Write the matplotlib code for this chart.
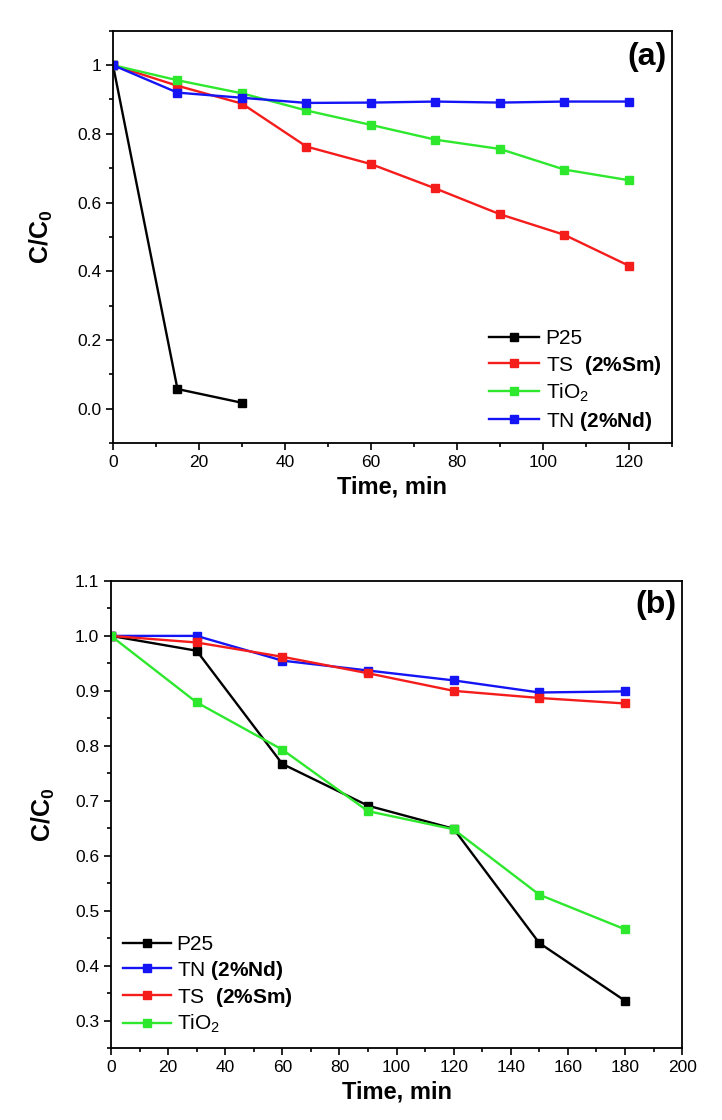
import matplotlib
matplotlib.use("Agg")
import matplotlib.pyplot as plt
from matplotlib.ticker import MultipleLocator, FixedLocator, FixedFormatter

plt.rcParams['font.family'] = ['Liberation Sans', 'DejaVu Sans']
plt.rcParams['mathtext.fontset'] = 'custom'
plt.rcParams['mathtext.rm'] = 'Liberation Sans'
plt.rcParams['mathtext.bf'] = 'Liberation Sans:bold'

#%% data, panel (a)
t_a = [0, 15, 30, 45, 60, 75, 90, 105, 120]
p25_a = [1.0, 0.057, 0.017]
ts_a = [1.0, 0.940, 0.888, 0.763, 0.712, 0.641, 0.566, 0.506, 0.416]
tio2_a = [1.0, 0.956, 0.918, 0.868, 0.826, 0.783, 0.756, 0.696, 0.665]
tn_a = [1.0, 0.920, 0.905, 0.890, 0.891, 0.894, 0.891, 0.894, 0.894]

#%% data, panel (b)
t_b = [0, 30, 60, 90, 120, 150, 180]
p25_b = [1.0, 0.973, 0.767, 0.691, 0.649, 0.441, 0.336]
tn_b = [1.0, 1.0, 0.955, 0.937, 0.919, 0.897, 0.899]
ts_b = [1.0, 0.988, 0.962, 0.932, 0.900, 0.887, 0.877]
tio2_b = [1.0, 0.879, 0.793, 0.681, 0.648, 0.529, 0.466]

lab_p25 = 'P25'
lab_ts = r'TS  $\mathbf{(2\%Sm)}$'
lab_tn = r'TN $\mathbf{(2\%Nd)}$'
lab_tio2 = r'TiO$_2$'

c_black, c_red, c_green, c_blue = '#000000', '#f51c1c', '#2ee82e', '#1414f5'
style = dict(marker='s', markersize=6.2, linewidth=1.7)

fig = plt.figure(figsize=(7.22, 11.2), dpi=100)
ax1 = fig.add_axes([0.1565, 0.6045, 0.774, 0.368])
ax2 = fig.add_axes([0.1537, 0.0643, 0.791, 0.417])

ax1.plot(t_a[:3], p25_a, color=c_black, label=lab_p25, **style)
ax1.plot(t_a, ts_a, color=c_red, label=lab_ts, **style)
ax1.plot(t_a, tio2_a, color=c_green, label=lab_tio2, **style)
ax1.plot(t_a, tn_a, color=c_blue, label=lab_tn, **style)
ax1.set_xlim(0, 130)
ax1.set_ylim(-0.1, 1.1)
ax1.xaxis.set_major_locator(MultipleLocator(20))
ax1.xaxis.set_minor_locator(MultipleLocator(10))
ax1.yaxis.set_major_locator(FixedLocator([0.0, 0.2, 0.4, 0.6, 0.8, 1.0]))
ax1.yaxis.set_major_formatter(FixedFormatter(['0.0', '0.2', '0.4', '0.6', '0.8', '1']))
ax1.yaxis.set_minor_locator(MultipleLocator(0.1))
ax1.text(0.99, 0.972, '(a)', transform=ax1.transAxes, ha='right', va='top',
         fontsize=23, fontweight='bold')
ax1.legend(loc='lower right', frameon=False, fontsize=15, handlelength=2.4,
           handletextpad=0.3, labelspacing=0.25, borderaxespad=0.1)

ax2.plot(t_b, p25_b, color=c_black, label=lab_p25, **style)
ax2.plot(t_b, tn_b, color=c_blue, label=lab_tn, **style)
ax2.plot(t_b, ts_b, color=c_red, label=lab_ts, **style)
ax2.plot(t_b, tio2_b, color=c_green, label=lab_tio2, **style)
ax2.set_xlim(0, 200)
ax2.set_ylim(0.25, 1.1)
ax2.xaxis.set_major_locator(MultipleLocator(20))
ax2.xaxis.set_minor_locator(MultipleLocator(10))
ax2.yaxis.set_major_locator(MultipleLocator(0.1))
ax2.yaxis.set_minor_locator(MultipleLocator(0.05))
ax2.yaxis.set_major_formatter(plt.FormatStrFormatter('%.1f'))
ax2.text(0.99, 0.98, '(b)', transform=ax2.transAxes, ha='right', va='top',
         fontsize=23, fontweight='bold')
ax2.legend(loc='lower left', frameon=False, fontsize=15, handlelength=2.3,
           handletextpad=0.25, labelspacing=0.2, borderaxespad=0.2)

for ax in (ax1, ax2):
    ax.set_xlabel('Time, min', fontsize=17, fontweight='bold', labelpad=4)
    ax.tick_params(which='both', direction='out', top=False, right=False,
                   labelsize=12.5, width=1.2)
    ax.tick_params(which='major', length=5)
    ax.tick_params(which='minor', length=3)
    for sp in ax.spines.values():
        sp.set_linewidth(1.3)
ax1.set_ylabel(r'$\mathbf{C/C_0}$', fontsize=18, labelpad=16)
ax2.set_ylabel(r'$\mathbf{C/C_0}$', fontsize=18, labelpad=13)

fig.savefig('out.png', dpi=100)
